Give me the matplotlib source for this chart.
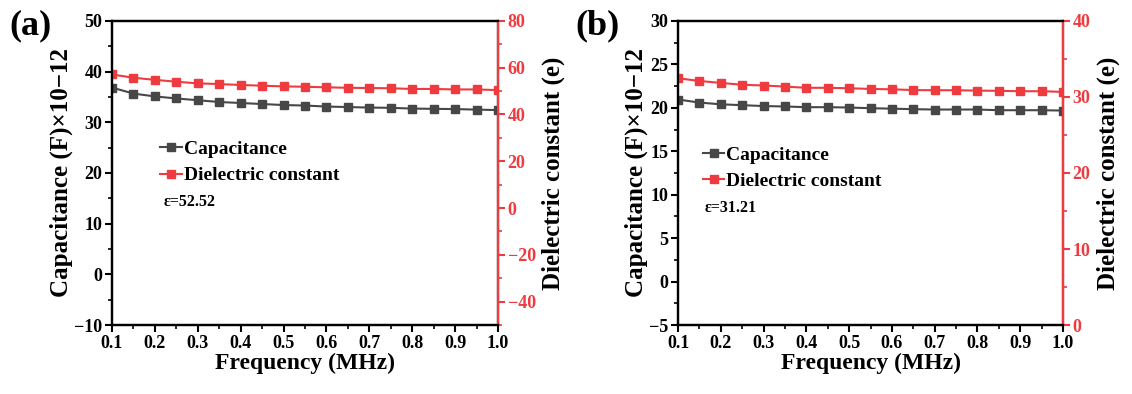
import matplotlib.pyplot as plt
import numpy as np
from matplotlib.ticker import MultipleLocator

plt.rcParams['font.family'] = ['Liberation Serif', 'DejaVu Serif']
plt.rcParams['font.weight'] = 'bold'

freq = np.round(np.arange(0.1, 1.0001, 0.05), 2)

cap_a = [36.85, 35.66, 35.1, 34.7, 34.35, 34.0, 33.8, 33.6, 33.4, 33.3,
         33.1, 33.0, 32.9, 32.85, 32.7, 32.65, 32.6, 32.5, 32.4]
diel_a = [57.1, 55.7, 54.8, 54.0, 53.3, 53.0, 52.6, 52.3, 52.0, 51.85,
          51.6, 51.4, 51.3, 51.2, 50.9, 50.9, 50.7, 50.7, 50.4]
cap_b = [20.95, 20.6, 20.4, 20.3, 20.2, 20.15, 20.07, 20.07, 20.03, 19.95,
         19.9, 19.84, 19.8, 19.8, 19.8, 19.72, 19.72, 19.72, 19.68]
diel_b = [32.45, 32.1, 31.84, 31.6, 31.5, 31.36, 31.2, 31.2, 31.14, 31.05,
          31.0, 30.9, 30.88, 30.88, 30.83, 30.8, 30.75, 30.75, 30.66]

gray = '#474747'
red = '#ee3b3f'

panels = [
    dict(tag='(a)', tagx=0.008, cap=cap_a, diel=diel_a, ylim=(-10, 50), ystep=10,
         y2lim=(-50, 80), y2step=20, eps='ε=52.52',
         rect=[0.0989, 0.175, 0.341, 0.772], leg=(0.125, 0.607), epsxy=(0.135, 0.405)),
    dict(tag='(b)', tagx=0.508, cap=cap_b, diel=diel_b, ylim=(-5, 30), ystep=5,
         y2lim=(0, 40), y2step=10, eps='ε=31.21',
         rect=[0.599, 0.175, 0.340, 0.772], leg=(0.065, 0.588), epsxy=(0.07, 0.385)),
]

fig = plt.figure(figsize=(11.32, 3.94), dpi=100)

for p in panels:
    ax = fig.add_axes(p['rect'])
    ax2 = ax.twinx()
    l1, = ax.plot(freq, p['cap'], '-s', color=gray, lw=1.5, ms=5.5, label='Capacitance')
    l2, = ax2.plot(freq, p['diel'], '-s', color=red, lw=1.5, ms=5.5, label='Dielectric constant')

    ax.set_xlim(0.1, 1.0)
    ax.set_ylim(*p['ylim'])
    ax2.set_ylim(*p['y2lim'])
    ax.xaxis.set_major_locator(MultipleLocator(0.1))
    ax.xaxis.set_minor_locator(MultipleLocator(0.05))
    ax.yaxis.set_major_locator(MultipleLocator(p['ystep']))
    ax.yaxis.set_minor_locator(MultipleLocator(p['ystep'] / 2))
    ax2.yaxis.set_major_locator(MultipleLocator(p['y2step']))
    ax2.yaxis.set_minor_locator(MultipleLocator(p['y2step'] / 2))
    ax.xaxis.set_major_formatter(plt.FormatStrFormatter('%.1f'))

    for a in (ax, ax2):
        for s in a.spines.values():
            s.set_linewidth(1.6)
    ax2.spines['right'].set_color(red)
    ax.tick_params(axis='both', which='major', direction='out', length=5, width=1.5,
                   labelsize=13, pad=2)
    ax.tick_params(axis='both', which='minor', direction='out', length=3, width=1.2)
    ax2.tick_params(axis='y', which='major', direction='out', length=5, width=1.5,
                    colors=red, labelsize=13, pad=2)
    ax2.tick_params(axis='y', which='minor', direction='out', length=3, width=1.2, colors=red)
    for lab in ax.get_xticklabels() + ax.get_yticklabels() + ax2.get_yticklabels():
        lab.set_fontweight('bold')

    ax.set_xlabel('Frequency (MHz)', fontsize=17, fontweight='bold', labelpad=1)
    ax.set_ylabel('Capacitance (F)×10−12', fontsize=18, fontweight='bold', labelpad=1)
    ax2.set_ylabel('Dielectric constant (e)', fontsize=18, fontweight='bold', labelpad=4)

    ax.legend(handles=[l1, l2], loc='upper left', bbox_to_anchor=p['leg'], frameon=False,
              handlelength=1.1, handletextpad=0.1, labelspacing=0.45,
              borderpad=0, borderaxespad=0,
              prop={'size': 14, 'weight': 'bold'})
    ax.text(*p['epsxy'], p['eps'], transform=ax.transAxes, fontsize=11.5,
            fontweight='bold', va='center')
    fig.text(p['tagx'], 0.935, p['tag'], fontsize=26, fontweight='bold', va='center')

fig.savefig('out.png', dpi=100)
